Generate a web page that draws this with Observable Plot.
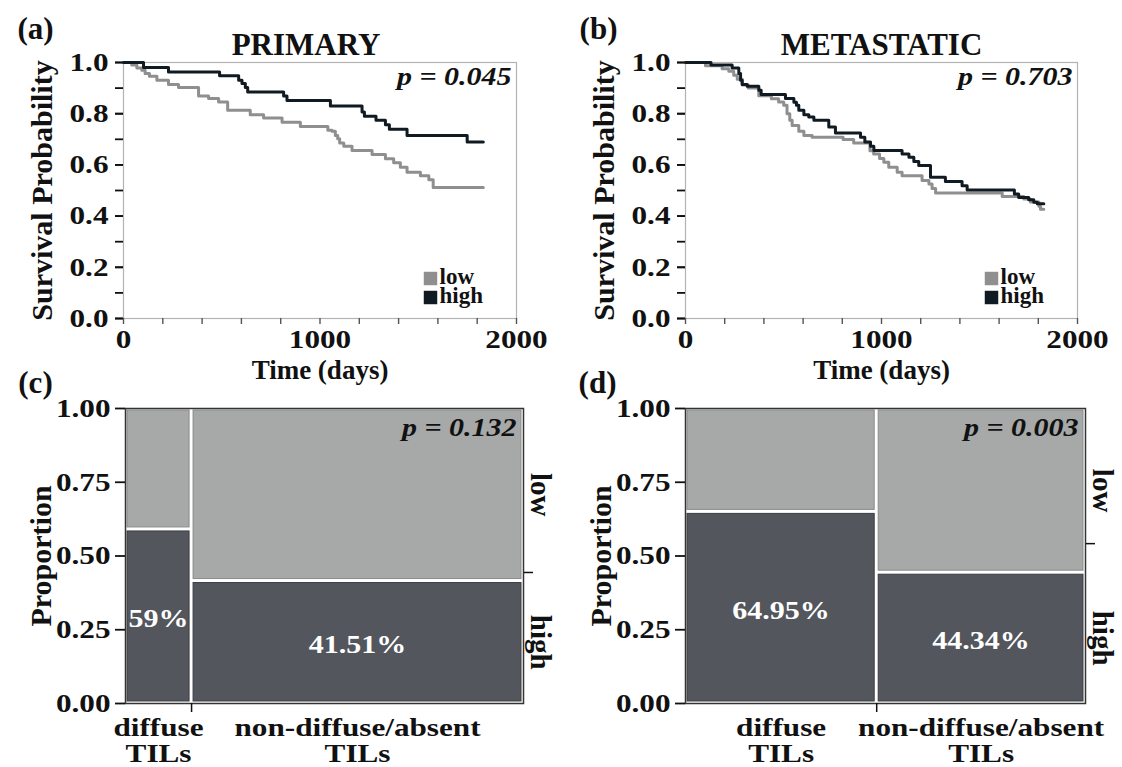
<!DOCTYPE html>
<html><head><meta charset="utf-8">
<script src="https://cdn.jsdelivr.net/npm/d3@7"></script>
<script src="https://cdn.jsdelivr.net/npm/@observablehq/plot@0.6"></script>
<style>
body{margin:0;background:#fff;}
#fig{position:relative;width:1122px;height:767px;overflow:hidden;background:#fff;}
.panel{position:absolute;}
</style></head><body><div id="fig"></div>
<script>
// ---------- Kaplan-Meier data (time in days, survival probability) ----------
const primLowT  = [0,42,68,93,110,132,170,229,280,382,433,484,530,645,713,807,900,1040,1061,1078,1090,1100,1121,1163,1265,1333,1375,1409,1443,1511,1554,1576,1831];
const primLowS  = [1,0.990,0.979,0.970,0.957,0.946,0.931,0.914,0.902,0.869,0.859,0.846,0.813,0.796,0.783,0.767,0.750,0.735,0.731,0.715,0.702,0.686,0.673,0.656,0.641,0.624,0.608,0.591,0.571,0.558,0.542,0.512,0.512];
const primHighT = [0,102,229,489,586,603,620,632,815,832,1053,1214,1226,1285,1333,1353,1443,1749,1831];
const primHighS = [1,0.980,0.963,0.948,0.931,0.918,0.902,0.885,0.869,0.852,0.830,0.807,0.790,0.774,0.757,0.739,0.715,0.689,0.689];
const metaLowT  = [0,102,187,221,246,264,290,320,374,438,475,501,518,532,544,578,604,646,804,858,941,960,990,1012,1037,1080,1105,1207,1242,1258,1276,1616,1726,1760,1803,1811,1828];
const metaLowS  = [1,0.987,0.976,0.966,0.950,0.935,0.912,0.900,0.870,0.858,0.846,0.833,0.800,0.774,0.754,0.731,0.715,0.708,0.699,0.686,0.655,0.643,0.625,0.610,0.591,0.571,0.558,0.539,0.525,0.508,0.490,0.477,0.467,0.455,0.438,0.427,0.427];
const metaHighT = [0,130,238,272,281,289,315,374,386,510,553,566,578,604,629,655,731,765,893,915,944,961,1105,1140,1165,1190,1250,1326,1411,1437,1678,1700,1751,1777,1795,1828];
const metaHighS = [1,0.990,0.979,0.957,0.931,0.914,0.907,0.892,0.875,0.859,0.845,0.833,0.813,0.796,0.787,0.774,0.748,0.725,0.708,0.689,0.673,0.656,0.643,0.630,0.613,0.598,0.552,0.535,0.519,0.502,0.486,0.473,0.464,0.454,0.448,0.448];

// ---------- Mosaic data ----------
const mosaicCats = ["diffuse\nTILs", "non-diffuse/absent\nTILs"];
const primColShare = [0.166, 0.834];
const primHighShare = [0.59, 0.4151];
const primPctLabels = ["59%", "41.51%"];
const metaColShare = [0.478, 0.522];
const metaHighShare = [0.6495, 0.4434];
const metaPctLabels = ["64.95%", "44.34%"];

// ---------- tick labels / names ----------
const groups = ["low", "high"];
const groupColors = ["#8f8f8f", "#101a22"];
const kmXTicks = [0,200,400,600,800,1000,1200,1400,1600,1800,2000];
const kmXLabels = [0,1000,2000];
const kmYTicks = [0,0.1,0.2,0.3,0.4,0.5,0.6,0.7,0.8,0.9,1.0];
const kmYLabels = [0,0.2,0.4,0.6,0.8,1.0];
const propTicks = [0,0.25,0.5,0.75,1];

const FONT = '"Liberation Serif","Times New Roman",Times,serif';
const baseStyle = {background: "none", overflow: "visible", fontFamily: FONT, fontWeight: "bold", color: "#111"};

function series(T, S) { return T.map((t, i) => ({t, s: S[i]})); }

function kmPanel(o) {
  const low = series(o.lowT, o.lowS), high = series(o.highT, o.highS);
  const legend = groups.flatMap((g, i) => [
    Plot.dot([g], {frameAnchor: "bottom-right", dx: -86, dy: -40 + i * 19, symbol: "square", r: 7.6, fill: groupColors[i]}),
    Plot.text([g], {frameAnchor: "bottom-right", text: d => d, textAnchor: "start", lineAnchor: "middle", dx: -77, dy: -42 + i * 19, fontSize: 23, fill: "#111"})
  ]);
  return Plot.plot({
    width: 561, height: 385,
    marginLeft: o.ml, marginRight: o.mr, marginTop: 62, marginBottom: 67,
    style: baseStyle,
    x: {domain: [0, 2000]},
    y: {domain: [0, 1]},
    marks: [
      Plot.frame({stroke: "#b3b3b3", strokeWidth: 1.2}),
      Plot.axisY({ticks: kmYTicks, tickSize: 8, tickFormat: () => "", strokeWidth: 1.8, label: null}),
      Plot.axisY({ticks: kmYLabels, tickSize: 8, tickPadding: 7, tickFormat: d3.format(".1f"), fontSize: 26, strokeWidth: 1.8, label: null}),
      Plot.axisX({ticks: kmXTicks, tickSize: 6, tickFormat: () => "", strokeWidth: 1.4, stroke: "#555", label: null}),
      Plot.axisX({ticks: kmXLabels, tickSize: 0, tickPadding: 11, tickFormat: d => String(d), fontSize: 26, label: null}),
      Plot.line(low, {x: "t", y: "s", curve: "step-after", stroke: groupColors[0], strokeWidth: 3}),
      Plot.line(high, {x: "t", y: "s", curve: "step-after", stroke: groupColors[1], strokeWidth: 3}),
      ...legend,
      Plot.text([o.title], {text: d => d, frameAnchor: "top", lineAnchor: "middle", dx: o.titleDx, dy: -17, fontSize: 31}),
      Plot.text([o.p], {text: d => d, frameAnchor: "top-right", textAnchor: "end", lineAnchor: "middle", dx: -5, dy: 14, fontSize: 25, fontStyle: "italic"}),
      Plot.text(["Survival Probability"], {text: d => d, frameAnchor: "left", textAnchor: "middle", lineAnchor: "middle", rotate: -90, dx: -81, fontSize: 30}),
      Plot.text(["Time (days)"], {text: d => d, frameAnchor: "bottom", lineAnchor: "middle", dy: 52, fontSize: 27}),
      Plot.text([o.letter], {text: d => d, frameAnchor: "top-left", textAnchor: "middle", lineAnchor: "middle", dx: o.letterDx, dy: -33, fontSize: 31})
    ]
  });
}

function mosaicPanel(o) {
  const cum = d3.cumsum([0, ...o.colShare]);
  const tiles = o.colShare.map((w, i) => ({x1: cum[i], x2: cum[i] + w, h: o.high[i]}));
  const overall = d3.sum(o.colShare, (w, i) => w * o.high[i]);
  const last = o.colShare.length - 1;
  const sideLabels = [
    {text: groups[0], y: (1 + o.high[last]) / 2},
    {text: groups[1], y: o.high[last] / 2}
  ];
  const cats = o.colShare.map((w, i) => ({text: mosaicCats[i], x: cum[i] + w / 2, pct: o.pct[i], h: o.high[i]}));
  return Plot.plot({
    width: 561, height: 407,
    marginLeft: o.ml, marginRight: o.mr, marginTop: 48, marginBottom: 64,
    style: baseStyle,
    x: {domain: [0, 1]},
    y: {domain: [0, 1]},
    marks: [
      Plot.rect(tiles, {x1: "x1", x2: "x2", y1: d => d.h, y2: 1, fill: "#a6a9a8", stroke: "#8a8c8c", strokeWidth: 1, inset: 2}),
      Plot.rect(tiles, {x1: "x1", x2: "x2", y1: 0, y2: d => d.h, fill: "#53565c", stroke: "#3c3e43", strokeWidth: 1, inset: 2}),
      Plot.frame({stroke: "#333", strokeWidth: 1.5}),
      Plot.axisY({ticks: propTicks, tickSize: 10, tickPadding: 5, tickFormat: d3.format(".2f"), fontSize: 26, strokeWidth: 1.8, label: null}),
      Plot.axisY({anchor: "right", ticks: [overall], tickSize: 9, tickFormat: () => "", strokeWidth: 1.5, label: null}),
      Plot.axisX({ticks: [cum[1]], tickSize: 9, tickFormat: () => "", strokeWidth: 1.5, label: null}),
      Plot.text(cats, {x: "x", y: d => d.h / 2, text: "pct", fill: "white", fontSize: 25, dy: 3}),
      Plot.text(cats, {x: "x", text: "text", frameAnchor: "bottom", lineAnchor: "middle", dy: 37, lineHeight: 1.0, fontSize: 26}),
      Plot.text(sideLabels, {x: () => 1, y: "y", text: "text", rotate: 90, dx: 17, fontSize: 29}),
      Plot.text([o.p], {text: d => d, frameAnchor: "top-right", textAnchor: "end", lineAnchor: "middle", dx: -7, dy: 19, fontSize: 25, fontStyle: "italic"}),
      Plot.text(["Proportion"], {text: d => d, frameAnchor: "left", textAnchor: "middle", lineAnchor: "middle", rotate: -90, dx: -84, fontSize: 30}),
      Plot.text([o.letter], {text: d => d, frameAnchor: "top-left", textAnchor: "middle", lineAnchor: "middle", dx: o.letterDx, dy: -25, fontSize: 31})
    ]
  });
}

// Widen the Times-like tick/number labels horizontally, as in the source figure.
function stretchText(svg, factor) {
  svg.querySelectorAll("text").forEach(t => {
    const tr = t.getAttribute("transform");
    if (!tr || tr.includes("rotate")) return;
    const fs = parseFloat(getComputedStyle(t).fontSize);
    if (fs === 25 || fs === 26) t.setAttribute("transform", tr + ` scale(${factor},1)`);
  });
}

const fig = document.getElementById("fig");
function place(node, left, top) {
  node.classList.add("panel");
  node.style.left = left + "px";
  node.style.top = top + "px";
  fig.appendChild(node);
  stretchText(node, 1.2);
}

place(kmPanel({lowT: primLowT, lowS: primLowS, highT: primHighT, highS: primHighS,
  title: "PRIMARY", titleDx: -14, p: "p = 0.045", letter: "(a)", letterDx: -88, ml: 123, mr: 45}), 0, 0);
place(kmPanel({lowT: metaLowT, lowS: metaLowS, highT: metaHighT, highS: metaHighS,
  title: "METASTATIC", titleDx: 0, p: "p = 0.703", letter: "(b)", letterDx: -87, ml: 124, mr: 45}), 561, 0);
place(mosaicPanel({colShare: primColShare, high: primHighShare, pct: primPctLabels,
  p: "p = 0.132", letter: "(c)", letterDx: -90, ml: 125, mr: 38}), 0, 360);
place(mosaicPanel({colShare: metaColShare, high: metaHighShare, pct: metaPctLabels,
  p: "p = 0.003", letter: "(d)", letterDx: -88, ml: 124, mr: 37}), 561, 360);
</script></body></html>
